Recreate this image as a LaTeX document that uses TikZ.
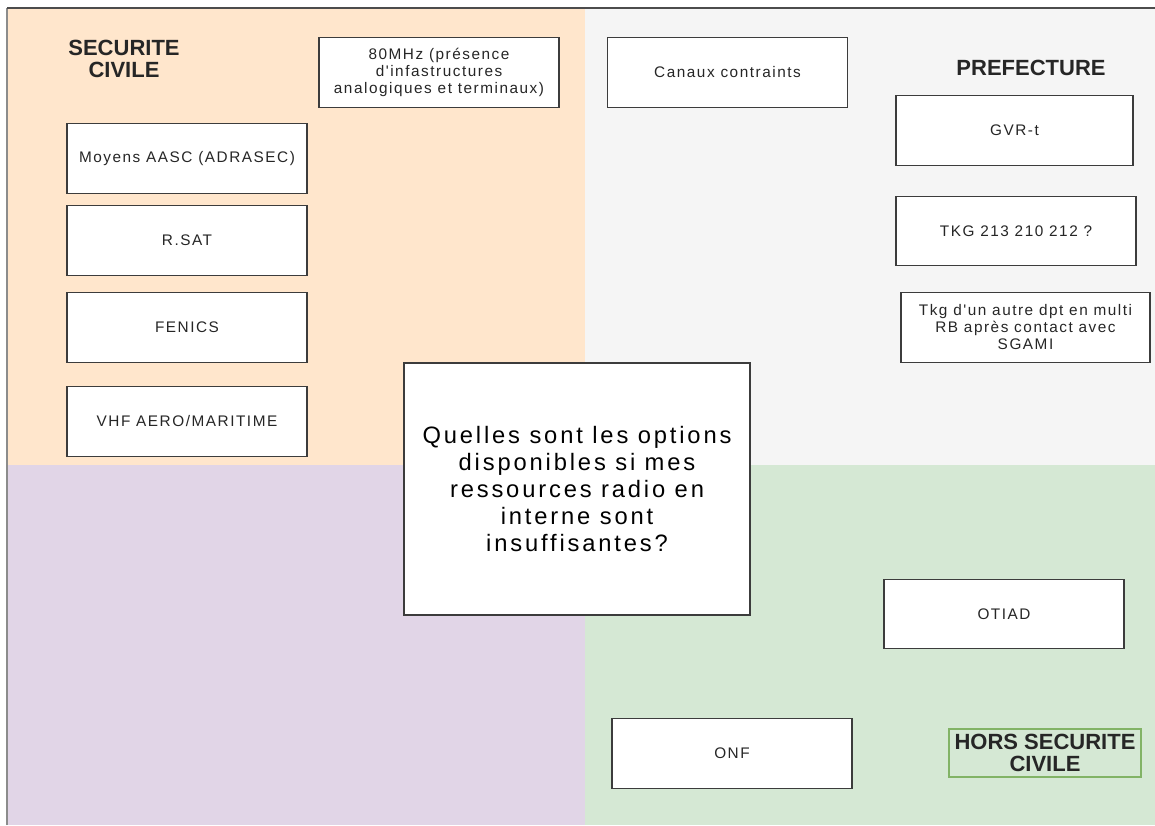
\documentclass[tikz,border=0pt]{standalone}
\usepackage{fontspec}
\setmainfont{Liberation Sans}
\newfontfamily\boxfont[LetterSpace=10]{Liberation Sans}
\newfontfamily\questfont[LetterSpace=12]{Liberation Sans}
\usepackage{tikz}
\usetikzlibrary{positioning}
\definecolor{zoneorange}{HTML}{FFE6CC}
\definecolor{zonegray}{HTML}{F5F5F5}
\definecolor{zonepurple}{HTML}{E1D5E7}
\definecolor{zonegreen}{HTML}{D5E8D4}
\definecolor{bordergreen}{HTML}{82B366}
\definecolor{boxline}{RGB}{60,60,60}
\tikzset{
  optbox/.style={rectangle, draw=boxline, fill=white, line width=0.9pt,
    minimum width=180pt, minimum height=52pt, align=center, inner sep=1pt,
    font=\boxfont\fontsize{11.5}{12.75}\selectfont, text=black!85},
  question/.style={rectangle, draw=boxline, fill=white, line width=0.9pt,
    minimum width=259.5pt, minimum height=189pt, align=center,
    font=\questfont\fontsize{17.8}{20.3}\selectfont},
  zonelabel/.style={align=center, font=\bfseries\fontsize{16.5}{17}\selectfont,
    text=black!85}
}
\begin{document}
\begin{tikzpicture}[x=0.75pt, y=-0.75pt]
  \useasboundingbox (0,0) rectangle (1155,825);

  % Zones
  \fill[zoneorange] (7,8) rectangle (585,465);
  \fill[zonegray] (585,8) rectangle (1155,465);
  \fill[zonepurple] (7,465) rectangle (585,825);
  \fill[zonegreen] (585,465) rectangle (1155,825);
  \draw[black!45, line width=1pt] (7,825) -- (7,8);
  \draw[black!70, line width=1pt] (7,8) -- (1155,8);

  % Securite civile
  \node[zonelabel] (secu) at (124,59) {SECURITE\\CIVILE};
  \node[optbox] (mhz) at (439,72.5) {80MHz (présence\\d'infastructures\\analogiques et terminaux)};
  \node[optbox] (aasc) at (187,158.5) {Moyens AASC (ADRASEC)};
  \node[optbox] (rsat) at (187,240.5) {R.SAT};
  \node[optbox] (fenics) at (187,327.5) {FENICS};
  \node[optbox] (vhf) at (187,421.5) {VHF AERO/MARITIME};

  % Prefecture
  \node[optbox] (canaux) at (727.5,72.5) {Canaux contraints};
  \node[zonelabel] (pref) at (1031,68) {PREFECTURE};
  \node[optbox, minimum width=177.75pt] (gvr) at (1014.5,130.5) {GVR-t};
  \node[optbox] (tkg) at (1016,231) {TKG 213 210 212 ?};
  \node[optbox, minimum width=186.75pt] (autre) at (1025.5,327.5) {Tkg d'un autre dpt en multi\\RB après contact avec\\SGAMI};

  % Hors securite civile
  \node[optbox] (otiad) at (1004,614) {OTIAD};
  \node[optbox] (onf) at (732,753.5) {ONF};
  \node[zonelabel, draw=bordergreen, line width=1pt, minimum width=144pt,
    minimum height=36pt, inner sep=1pt] (hors) at (1045,753) {HORS SECURITE\\CIVILE};

  % Question centrale
  \node[question] (quest) at (577,489) {Quelles sont les options\\disponibles si mes\\ressources radio en\\interne sont\\insuffisantes?};
\end{tikzpicture}
\end{document}
